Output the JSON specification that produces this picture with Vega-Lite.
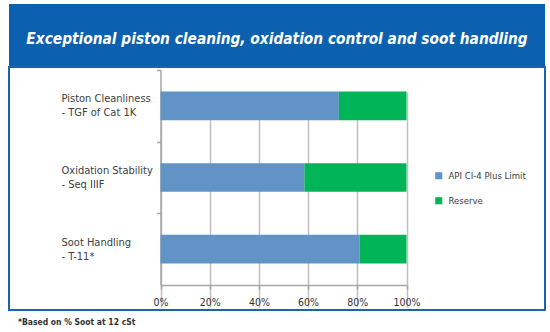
{
  "$schema": "https://vega.github.io/schema/vega-lite/v6.json",
  "padding": {"left": 8, "top": 4, "right": 0, "bottom": 0},
  "background": "white",
  "spacing": 0,
  "bounds": "flush",
  "title": {
    "text": "*Based on % Soot at 12 cSt",
    "orient": "bottom",
    "anchor": "start",
    "offset": 7,
    "dx": 10,
    "fontSize": 8.5,
    "fontWeight": "bold",
    "font": "DejaVu Sans Condensed, sans-serif",
    "color": "#333333"
  },
  "config": {
    "font": "DejaVu Sans Condensed, sans-serif"
  },
  "vconcat": [
    {
      "width": 536,
      "height": 63,
      "view": {"fill": "#0B61AF", "stroke": null},
      "data": {"values": [{"headline": "Exceptional piston cleaning, oxidation control and soot handling"}]},
      "mark": {"type": "text", "color": "white", "fontSize": 15.3, "fontWeight": "bold", "fontStyle": "italic", "dy": 3.5},
      "encoding": {"text": {"field": "headline", "type": "nominal"}}
    },
    {
      "width": 536,
      "height": 243,
      "view": {"fill": "white", "stroke": "#1A63B0", "strokeWidth": 2},
      "data": {
        "values": [
          {"test": "Piston Cleanliness - TGF of Cat 1K", "series": "API CI-4 Plus Limit", "pct": 72.5},
          {"test": "Piston Cleanliness - TGF of Cat 1K", "series": "Reserve", "pct": 27.5},
          {"test": "Oxidation Stability - Seq IIIF", "series": "API CI-4 Plus Limit", "pct": 58.5},
          {"test": "Oxidation Stability - Seq IIIF", "series": "Reserve", "pct": 41.5},
          {"test": "Soot Handling - T-11*", "series": "API CI-4 Plus Limit", "pct": 81},
          {"test": "Soot Handling - T-11*", "series": "Reserve", "pct": 19}
        ]
      },
      "mark": {"type": "bar"},
      "encoding": {
        "y": {
          "field": "test",
          "type": "nominal",
          "sort": null,
          "scale": {"range": [3, 218], "paddingInner": 0.6, "paddingOuter": 0.3},
          "axis": {
            "title": null,
            "orient": "left",
            "offset": -151.5,
            "tickOffset": -35.83,
            "tickSize": 4,
            "tickColor": "#a6a6a6",
            "tickWidth": 1.5,
            "domainColor": "#a6a6a6",
            "domainWidth": 1.5,
            "labelAlign": "left",
            "labelPadding": 95.5,
            "labelOffset": 28.83,
            "labelFontSize": 11,
            "labelLineHeight": 14,
            "labelColor": "#404040",
            "labelExpr": "datum.label ? [split(datum.label, ' - ')[0], '- ' + split(datum.label, ' - ')[1]] : ''"
          }
        },
        "x": {
          "field": "pct",
          "type": "quantitative",
          "stack": "zero",
          "scale": {"domain": [0, 100], "range": [151.5, 397.5], "nice": false},
          "axis": {
            "title": null,
            "orient": "bottom",
            "offset": -25,
            "values": [0, 20, 40, 60, 80, 100],
            "labelExpr": "datum.value + '%'",
            "labelFlush": false,
            "grid": true,
            "gridColor": "#bfbfbf",
            "gridWidth": 1.5,
            "tickSize": 4,
            "tickColor": "#a6a6a6",
            "tickWidth": 1.5,
            "domainColor": "#a6a6a6",
            "domainWidth": 1.5,
            "labelPadding": 8,
            "labelFontSize": 10.5,
            "labelColor": "#333333"
          }
        },
        "color": {
          "field": "series",
          "type": "nominal",
          "scale": {"domain": ["API CI-4 Plus Limit", "Reserve"], "range": ["#6193C7", "#00B557"]},
          "legend": {
            "title": null,
            "orient": "none",
            "legendX": 425,
            "legendY": 167,
            "symbolType": "square",
            "symbolSize": 50,
            "symbolStrokeWidth": 0,
            "labelFontSize": 9.5,
            "labelColor": "#404040",
            "rowPadding": 14,
            "labelOffset": 5,
            "encode": {
              "symbols": {
                "enter": {
                  "fill": {"signal": "datum.value === 'Reserve' ? '#3DA23D' : '#1C5FB0'"}
                },
                "update": {
                  "fill": {"signal": "datum.value === 'Reserve' ? '#3DA23D' : '#1C5FB0'"},
                  "stroke": {"value": null}
                }
              }
            }
          }
        }
      }
    }
  ]
}
